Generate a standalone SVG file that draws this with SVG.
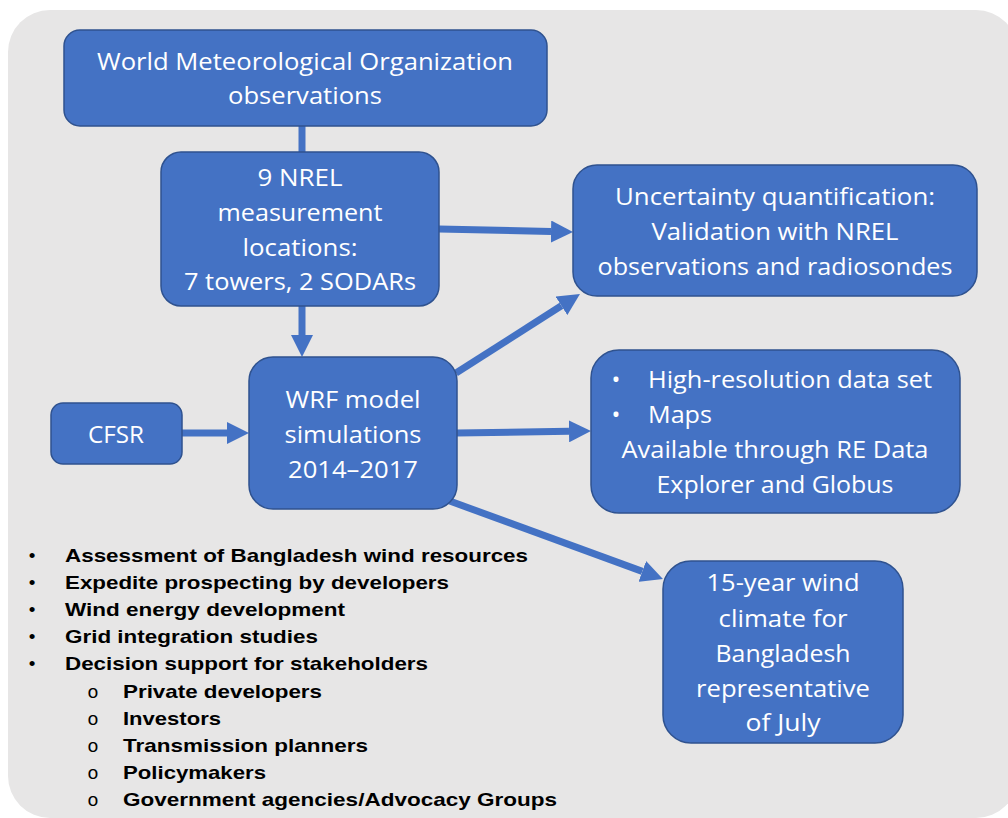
<svg xmlns="http://www.w3.org/2000/svg" width="1008" height="818" viewBox="0 0 1008 818">
<defs>
<marker id="ah" viewBox="0 0 22 22" refX="0" refY="11" markerWidth="22" markerHeight="22" markerUnits="userSpaceOnUse" orient="auto">
<path d="M0,0 L22,11 L0,22 z" fill="#4472C4"/>
</marker>
<style>
.box{fill:#4472C4;stroke:#2F528F;stroke-width:1.5}
.t{font-family:"Open Sans","Noto Sans",sans-serif;font-size:23.5px;fill:#FFFFFF;text-anchor:middle}
.tl{font-family:"Open Sans","Noto Sans",sans-serif;font-size:23.5px;fill:#FFFFFF}
.c{stroke:#4472C4;stroke-width:7;fill:none}
.ca{stroke:#4472C4;stroke-width:7;fill:none;marker-end:url(#ah)}
.l{font-family:"Liberation Sans",Arial,sans-serif;font-size:19px;font-weight:bold;fill:#000000}
.b{font-family:"Liberation Sans",Arial,sans-serif;font-size:19px;fill:#000000;text-anchor:middle}
.o{font-family:"Liberation Mono","Courier New",monospace;font-size:19px;fill:#000000;text-anchor:middle}
</style>
</defs>
<rect x="0" y="0" width="1008" height="818" fill="#FFFFFF"/>
<rect id="background" x="8" y="10" width="1010" height="808" rx="42" ry="42" fill="#E7E6E6"/>

<g id="connectors">
<line class="c" x1="302" y1="125" x2="302" y2="153"/>
<line class="ca" x1="302" y1="306" x2="302" y2="335"/>
<line class="ca" x1="182" y1="433" x2="227" y2="433"/>
<line class="ca" x1="439" y1="229" x2="551" y2="231.5"/>
<line class="ca" x1="456" y1="373" x2="561.4" y2="305.8"/>
<line class="ca" x1="457" y1="433" x2="569" y2="431.3"/>
<line class="ca" x1="447" y1="500" x2="642.3" y2="571.4"/>
</g>

<g id="wmo">
<rect class="box" x="64" y="30" width="483" height="96" rx="16"/>
<text class="t" x="305" y="70" textLength="416" lengthAdjust="spacingAndGlyphs">World Meteorological Organization</text>
<text class="t" x="305" y="104" textLength="154" lengthAdjust="spacingAndGlyphs">observations</text>
</g>

<g id="nrel">
<rect class="box" x="161" y="152" width="278" height="154" rx="20"/>
<text class="t" x="300" y="186" textLength="85" lengthAdjust="spacingAndGlyphs">9 NREL</text>
<text class="t" x="300" y="221" textLength="165" lengthAdjust="spacingAndGlyphs">measurement</text>
<text class="t" x="300" y="256" textLength="115" lengthAdjust="spacingAndGlyphs">locations:</text>
<text class="t" x="300" y="290" textLength="232" lengthAdjust="spacingAndGlyphs">7 towers, 2 SODARs</text>
</g>

<g id="cfsr">
<rect class="box" x="51" y="403" width="131" height="61" rx="12"/>
<text class="t" x="116" y="443" textLength="56" lengthAdjust="spacingAndGlyphs">CFSR</text>
</g>

<g id="wrf">
<rect class="box" x="249" y="357" width="208" height="152" rx="24"/>
<text class="t" x="353" y="408" textLength="135" lengthAdjust="spacingAndGlyphs">WRF model</text>
<text class="t" x="353" y="443" textLength="137" lengthAdjust="spacingAndGlyphs">simulations</text>
<text class="t" x="353" y="478" textLength="130" lengthAdjust="spacingAndGlyphs">2014–2017</text>
</g>

<g id="uncertainty">
<rect class="box" x="573" y="165" width="404" height="131" rx="24"/>
<text class="t" x="775" y="205" textLength="320" lengthAdjust="spacingAndGlyphs">Uncertainty quantification:</text>
<text class="t" x="775" y="240" textLength="247" lengthAdjust="spacingAndGlyphs">Validation with NREL</text>
<text class="t" x="775" y="275" textLength="355" lengthAdjust="spacingAndGlyphs">observations and radiosondes</text>
</g>

<g id="data">
<rect class="box" x="591" y="350" width="369" height="163" rx="28"/>
<text class="t" x="616" y="388">•</text>
<text class="tl" x="648" y="388" textLength="284" lengthAdjust="spacingAndGlyphs">High-resolution data set</text>
<text class="t" x="616" y="423">•</text>
<text class="tl" x="648" y="423" textLength="64" lengthAdjust="spacingAndGlyphs">Maps</text>
<text class="t" x="775" y="458" textLength="307" lengthAdjust="spacingAndGlyphs">Available through RE Data</text>
<text class="t" x="775" y="493" textLength="237" lengthAdjust="spacingAndGlyphs">Explorer and Globus</text>
</g>

<g id="climate">
<rect class="box" x="663" y="561" width="240" height="182" rx="28"/>
<text class="t" x="783" y="591" textLength="153" lengthAdjust="spacingAndGlyphs">15-year wind</text>
<text class="t" x="783" y="627" textLength="129" lengthAdjust="spacingAndGlyphs">climate for</text>
<text class="t" x="783" y="662" textLength="135" lengthAdjust="spacingAndGlyphs">Bangladesh</text>
<text class="t" x="783" y="697" textLength="174" lengthAdjust="spacingAndGlyphs">representative</text>
<text class="t" x="783" y="731" textLength="75" lengthAdjust="spacingAndGlyphs">of July</text>
</g>

<g id="benefits">
<text class="b" x="32" y="562">•</text>
<text class="l" x="65" y="562" textLength="463" lengthAdjust="spacingAndGlyphs">Assessment of Bangladesh wind resources</text>
<text class="b" x="32" y="589">•</text>
<text class="l" x="65" y="589" textLength="384" lengthAdjust="spacingAndGlyphs">Expedite prospecting by developers</text>
<text class="b" x="32" y="616">•</text>
<text class="l" x="65" y="616" textLength="280" lengthAdjust="spacingAndGlyphs">Wind energy development</text>
<text class="b" x="32" y="643">•</text>
<text class="l" x="65" y="643" textLength="253" lengthAdjust="spacingAndGlyphs">Grid integration studies</text>
<text class="b" x="32" y="670">•</text>
<text class="l" x="65" y="670" textLength="363" lengthAdjust="spacingAndGlyphs">Decision support for stakeholders</text>
<text class="o" x="93" y="698">o</text>
<text class="l" x="123" y="698" textLength="199" lengthAdjust="spacingAndGlyphs">Private developers</text>
<text class="o" x="93" y="725">o</text>
<text class="l" x="123" y="725" textLength="98" lengthAdjust="spacingAndGlyphs">Investors</text>
<text class="o" x="93" y="752">o</text>
<text class="l" x="123" y="752" textLength="245" lengthAdjust="spacingAndGlyphs">Transmission planners</text>
<text class="o" x="93" y="779">o</text>
<text class="l" x="123" y="779" textLength="143" lengthAdjust="spacingAndGlyphs">Policymakers</text>
<text class="o" x="93" y="806">o</text>
<text class="l" x="123" y="806" textLength="434" lengthAdjust="spacingAndGlyphs">Government agencies/Advocacy Groups</text>
</g>
</svg>
